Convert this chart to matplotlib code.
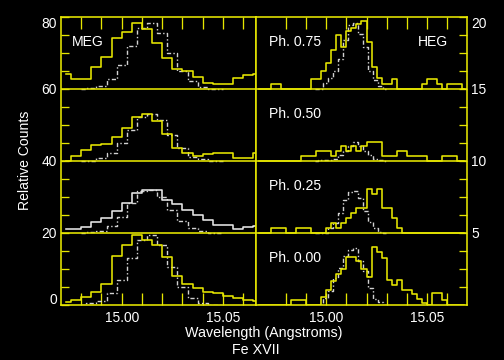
import numpy as np
import matplotlib
matplotlib.use('Agg')
import matplotlib.pyplot as plt

plt.rcParams['font.family'] = ['Liberation Sans', 'DejaVu Sans']

# ---------------- data ----------------
# MEG: observed histogram (bin 0.005 A) and model
meg_obs_wave = np.round(14.9725 + 0.005 * np.arange(20), 4)
meg_mod_wave = np.round(14.980 + 0.005 * np.arange(15), 4)

meg_obs_075 = [4.0, 2.6, 2.6, 6.1, 8.7, 13.9, 15.6, 18.3, 16.4, 12.6, 8.4, 5.4, 4.9, 3.1, 1.6, 1.25, 1.25, 2.8, 3.75, 4.0]
meg_obs_050 = [0.0, 1.25, 2.9, 4.3, 4.6, 6.6, 8.9, 12.0, 13.0, 11.1, 7.3, 3.4, 2.0, 1.25, 1.8, 2.2, 2.0, 0.8, 0.8, 2.0]
meg_obs_025 = [1.0, 1.0, 1.6, 3.0, 3.9, 6.0, 8.1, 10.9, 11.8, 11.8, 9.0, 7.9, 6.25, 4.9, 3.5, 2.1, 2.1, 1.0, 1.4, 1.9]
meg_obs_000 = [0.8, 1.25, 2.0, 3.4, 5.7, 13.6, 16.5, 19.3, 17.9, 16.5, 13.3, 8.0, 5.7, 4.5, 3.6, 3.2, 2.5, 1.75, 1.25, 1.0]

meg_mod_075 = [0, 0.1, 0.7, 2.6, 6.4, 11.9, 16.7, 18.3, 15.3, 9.8, 4.9, 2.1, 0.5, 0, 0]
meg_mod_050 = [0, 0, 0.6, 2.0, 4.8, 8.5, 12.0, 12.8, 11.2, 7.1, 3.4, 1.1, 0.4, 0, 0]
meg_mod_025 = [0, 0.2, 0.5, 1.9, 4.4, 8.1, 11.5, 11.8, 10.0, 6.25, 3.2, 1.3, 0.4, 0, 0]
meg_mod_000 = [0, 0.3, 1.0, 3.1, 6.8, 12.8, 17.9, 19.3, 16.5, 10.5, 4.9, 1.9, 0.5, 0, 0]

# HEG: observed histogram (bin 0.0025 A) and model
heg_obs_wave = np.round(14.96625 + 0.0025 * np.arange(42), 5)
heg_mod_wave = np.round(14.99455 + 0.0025 * np.arange(15), 5)

heg_obs_075 = [0, 0, 0, 0.31, 0.31, 0, 0, 0, 0, 0, 0, 0.64, 0.64, 1.22,
               1.8, 2.7, 3.7, 2.9, 4.0, 4.2, 4.45, 4.7, 3.2, 1.5, 0.7, 0.31,
               0.31, 0.64, 0, 0, 0, 0, 0, 0.31, 0.64, 0.64, 0.31, 0, 0.31, 0.31, 0.31, 0]
heg_obs_050 = [0, 0, 0, 0, 0, 0, 0, 0, 0, 0.31, 0.31, 0.31, 0.68, 0.68,
               0.68, 0.31, 0.68, 1.0, 0.68, 1.0, 0.68, 1.0, 1.3, 1.3, 1.3, 0.31,
               0.31, 0.31, 0.68, 0.68, 0.31, 0.31, 0.31, 0.31, 0, 0, 0, 0.31, 0.31, 0.31, 0, 0]
heg_obs_025 = [0, 0, 0, 0.33, 0.33, 0.33, 0, 0, 0.33, 0.33, 0.33, 0, 0, 0,
               0.33, 0.66, 0.33, 0.66, 0.98, 1.33, 1.68, 1.68, 3.0, 2.7, 3.0, 1.68,
               1.68, 0.98, 0.31, 0, 0, 0, 0, 0, 0, 0, 0, 0, 0, 0, 0, 0]
heg_obs_000 = [0, 0, 0, 0, 0, 0, 0, 0.31, 0.31, 0.31, 0, 0, 0, 0.5,
               1.0, 1.6, 2.1, 2.5, 3.3, 3.3, 3.0, 2.5, 1.9, 4.0, 3.68, 3.25,
               1.7, 1.33, 1.7, 1.0, 1.0, 0.7, 0.38, 0.1, 0, 0.78, 0.78, 0.31, 0, 0, 0, 0]

heg_mod_075 = [0, 0, 0.36, 0.7, 1.22, 2.03, 3.37, 4.4, 4.57, 3.8, 2.9, 1.24, 0.59, 0.17, 0]
heg_mod_050 = [0, 0.05, 0.05, 0.05, 0.1, 0.38, 0.68, 1.0, 1.3, 1.0, 0.68, 0.38, 0.1, 0.05, 0]
heg_mod_025 = [0, 0, 0, 0.29, 0.64, 1.33, 2.26, 2.84, 2.9, 2.37, 1.5, 0.75, 0.29, 0.06, 0]
heg_mod_000 = [0, 0, 0.45, 0.91, 1.84, 2.54, 3.35, 3.81, 3.93, 3.0, 2.3, 1.15, 0.38, 0.17, 0]

phase_labels = ['Ph. 0.00', 'Ph. 0.25', 'Ph. 0.50', 'Ph. 0.75']
meg_offsets = [0, 20, 40, 60]
heg_offsets = [0, 5, 10, 15]

# ---------------- style ----------------
Y = '#E6E600'
GR = '#D2D2D2'
WH = '#E6E6E6'
LW = 1.6
DASH = (0, (3, 1.6, 1, 1.6))

W, H = 504, 360
fig = plt.figure(figsize=(W / 72, H / 72), dpi=72, facecolor='black')


def fa(x0, y0, x1, y1):
    return [x0 / W, 1 - y1 / H, (x1 - x0) / W, (y1 - y0) / H]


axL = fig.add_axes(fa(61, 16.5, 256, 304.5))
axR = fig.add_axes(fa(256, 16.5, 467, 304.5))

meg_obs = [meg_obs_000, meg_obs_025, meg_obs_050, meg_obs_075]
meg_mod = [meg_mod_000, meg_mod_025, meg_mod_050, meg_mod_075]
heg_obs = [heg_obs_000, heg_obs_025, heg_obs_050, heg_obs_075]
heg_mod = [heg_mod_000, heg_mod_025, heg_mod_050, heg_mod_075]

for i in range(4):
    off = meg_offsets[i]
    axL.step(meg_mod_wave, np.array(meg_mod[i]) + off, where='mid',
             color=GR, lw=1.4, ls=DASH, zorder=2)
    col = WH if i == 1 else Y
    axL.step(meg_obs_wave, np.array(meg_obs[i]) + off, where='mid',
             color=col, lw=LW, zorder=3)
    hoff = heg_offsets[i]
    axR.step(heg_mod_wave, np.array(heg_mod[i]) + hoff, where='mid',
             color=GR, lw=1.4, ls=DASH, zorder=2)
    axR.step(heg_obs_wave, np.array(heg_obs[i]) + hoff, where='mid',
             color=Y, lw=LW, zorder=3)

for v in meg_offsets[1:]:
    axL.axhline(v, color=Y, lw=LW, zorder=4)
for v in heg_offsets[1:]:
    axR.axhline(v, color=Y, lw=LW, zorder=4)

axL.set_xlim(14.97, 15.0663)
axL.set_ylim(0, 80)
axR.set_xlim(14.965, 15.07)
axR.set_ylim(0, 20)

minor_x = [14.98, 14.99, 15.01, 15.02, 15.03, 15.04, 15.06]
for ax in (axL, axR):
    ax.set_facecolor('black')
    for s in ax.spines.values():
        s.set_color(Y)
        s.set_linewidth(LW)
        s.set_zorder(5)
    ax.set_xticks([15.00, 15.05])
    ax.set_xticklabels(['15.00', '15.05'])
    ax.set_xticks(minor_x, minor=True)
    ax.tick_params(axis='x', which='both', direction='in', length=12, width=1.3,
                   color=Y, top=True, bottom=True, labelcolor='white',
                   labelsize=13.8, pad=6)

axL.set_yticks([0, 20, 40, 60, 80])
axL.set_yticklabels(['0', '20', '40', '60', '80'])
axL.set_yticks([v for v in np.arange(0, 81, 5) if v % 20 != 0], minor=True)
axL.tick_params(axis='y', which='both', direction='in', length=8, width=1.3,
                color=Y, left=True, right=False, labelcolor='white',
                labelsize=13.8, pad=4)

axR.set_yticks([5, 10, 15, 20])
axR.set_yticklabels(['5', '10', '15', '20'])
axR.set_yticks([v for v in np.arange(0, 20.01, 1.25) if v % 5 != 0], minor=True)
axR.tick_params(axis='y', which='both', direction='in', length=8, width=1.3,
                color=Y, left=False, right=True, labelleft=False,
                labelright=True, labelcolor='white', labelsize=13.8, pad=4)

for lbl in axL.get_yticklabels():
    if lbl.get_text() == '80':
        lbl.set_va('top')
    if lbl.get_text() == '0':
        lbl.set_va('baseline')
for lbl in axR.get_yticklabels():
    if lbl.get_text() == '20':
        lbl.set_va('top')


def ptext(x, y, s, **kw):
    fig.text(x / W, 1 - y / H, s, color='white', **kw)


ptext(71.5, 45.7, 'MEG', ha='left', va='baseline', fontsize=14)
ptext(447.7, 45.7, 'HEG', ha='right', va='baseline', fontsize=14)
for lab, yb in zip(phase_labels, [262.3, 190.0, 118.3, 45.7]):
    ptext(269, yb, lab, ha='left', va='baseline', fontsize=14)

ptext(25.5, 160.5, 'Relative Counts', ha='center', va='center', rotation=90, fontsize=14)
ptext(264, 337.5, 'Wavelength (Angstroms)', ha='center', va='baseline', fontsize=14.2)
ptext(256, 353.5, 'Fe XVII', ha='center', va='baseline', fontsize=14.2)

fig.savefig('out.png', dpi=72, facecolor='black')
